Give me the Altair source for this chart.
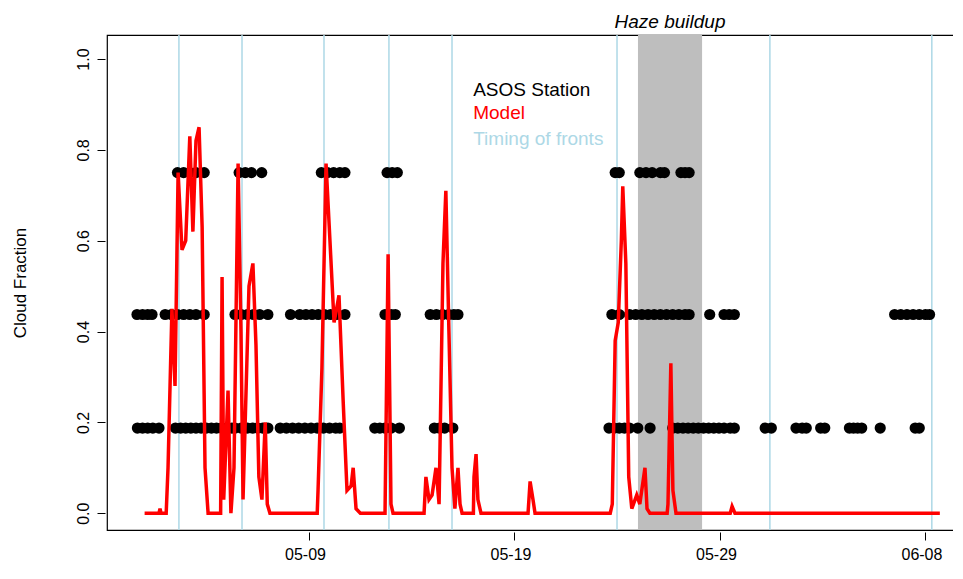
import altair as alt
import pandas as pd

START = pd.Timestamp("2019-05-01")
FONT = "Liberation Sans"

# observed cloud fraction (days since 05-01)
OBS_FEW = [-0.35, -0.1, 0.15, 0.4, 0.7,
           1.5, 1.75, 2.0, 2.25, 2.5, 2.75, 3.0, 3.25, 3.5, 3.75, 4.0, 4.25, 4.4,
           4.7, 5.0, 5.25, 5.5, 5.75, 6.0,
           6.6, 6.9, 7.2, 7.5, 7.8, 8.1, 8.4, 8.7, 9.0, 9.3, 9.5,
           11.2, 11.45, 11.7, 12.0, 12.4,
           14.1, 14.35, 14.6, 15.0,
           22.6, 22.85, 23.1, 23.35, 23.6, 24.0, 24.6,
           25.7, 25.95, 26.2, 26.45, 26.7, 26.95, 27.2, 27.45, 27.7, 27.95, 28.2, 28.5, 28.7,
           30.2, 30.5, 31.7, 32.0, 32.2, 32.9, 33.1,
           34.3, 34.5, 34.7, 34.9, 35.8, 37.5, 37.7]
OBS_SCT = [-0.37, -0.1, 0.15, 0.36,
           1.0, 1.3, 1.6, 1.9, 2.2, 2.5, 2.9,
           4.4, 4.7, 5.0, 5.3, 5.6, 6.0, 7.1,
           7.55, 7.85, 8.15, 8.45, 8.75, 9.05, 9.35, 9.75,
           11.7, 12.0, 12.2,
           13.9, 14.2, 14.5, 14.8, 15.05, 15.25,
           22.74, 23.1,
           23.6, 23.9, 24.2, 24.5, 24.8, 25.1, 25.4, 25.7, 26.0, 26.3, 26.5,
           27.5, 28.2, 28.45, 28.7,
           36.5, 36.8, 37.1, 37.4, 37.7, 38.0, 38.2]
OBS_BKN = [1.6, 1.9, 2.2, 2.5, 2.9,
           4.6, 4.9, 5.2, 5.7,
           8.6, 8.9, 9.2, 9.5, 9.75,
           11.8, 12.05, 12.3,
           22.9, 23.1,
           24.1, 24.4, 24.7, 25.1, 25.3, 26.1, 26.3, 26.5]

# model cloud fraction
MODEL_DAY = [0, 0.7, 0.75, 0.8, 1.05, 1.14, 1.33, 1.48, 1.63, 1.82, 2.0, 2.2, 2.35, 2.5, 2.65,
             2.8, 2.94, 3.09, 3.7, 3.77, 3.85, 4.06, 4.2, 4.35, 4.55, 4.69, 4.79, 5.08, 5.27,
             5.42, 5.56, 5.71, 5.87, 5.97, 6.1,
             8.4, 8.44, 8.63, 8.83, 9.02, 9.22, 9.46, 9.66, 9.85, 10.05, 10.15, 10.29, 10.5,
             11.7, 11.85, 11.99, 12.09,
             13.6, 13.69, 13.84, 13.99, 14.18, 14.33, 14.52, 14.66, 14.81, 14.96, 15.1, 15.25,
             15.35, 15.45, 16.0, 16.03, 16.13, 16.22, 16.37,
             18.66, 18.76, 18.9, 19.0,
             22.66, 22.76, 22.9, 23.05, 23.2, 23.27, 23.42, 23.56, 23.71, 23.95, 24.1, 24.35,
             24.45, 24.59, 25.43, 25.47, 25.61, 25.71, 25.86,
             28.5, 28.59, 28.73, 38.7]
MODEL_CF = [0, 0, 0.01, 0, 0.0, 0.1, 0.45, 0.28, 0.75, 0.58, 0.6, 0.83, 0.62, 0.82, 0.85,
            0.63, 0.1, 0, 0, 0.52, 0.03, 0.27, 0, 0.1, 0.77, 0.4, 0.03, 0.5, 0.55,
            0.37, 0.08, 0.03, 0.2, 0.02, 0,
            0, 0.05, 0.32, 0.77, 0.6, 0.42, 0.48, 0.25, 0.05, 0.06, 0.1, 0.01, 0,
            0, 0.57, 0.02, 0,
            0, 0.08, 0.03, 0.04, 0.1, 0.02, 0.55, 0.71, 0.4, 0.1, 0.01, 0.1,
            0.02, 0, 0, 0.08, 0.13, 0.03, 0,
            0, 0.07, 0.03, 0,
            0, 0.02, 0.38, 0.42, 0.6, 0.72, 0.55, 0.08, 0.01, 0.04, 0.02, 0.1,
            0.01, 0, 0, 0.02, 0.33, 0.05, 0,
            0, 0.015, 0, 0]

FRONTS = [1.67, 4.74, 8.73, 11.89, 14.96, 22.99, 30.43, 38.31]
HAZE = [24.01, 27.13]
TICK_DAYS = [8, 18, 28, 38]


def to_time(days):
    return [START + pd.Timedelta(days=d) for d in days]


obs = pd.DataFrame({
    "t": to_time(OBS_FEW + OBS_SCT + OBS_BKN),
    "cf": [0.1875] * len(OBS_FEW) + [0.4375] * len(OBS_SCT) + [0.75] * len(OBS_BKN),
})
model = pd.DataFrame({"t": to_time(MODEL_DAY), "cf": MODEL_CF})
fronts = pd.DataFrame({"t": to_time(FRONTS)})
haze = pd.DataFrame({"t": to_time(HAZE[:1]), "t2": to_time(HAZE[1:])})

xscale = alt.Scale(domain=[(START + pd.Timedelta(days=-1.83)).isoformat(),
                           (START + pd.Timedelta(days=39.73)).isoformat()], nice=False)
yscale = alt.Scale(domain=[-0.037, 1.053], nice=False, zero=False)
ticks = [t.isoformat() for t in to_time(TICK_DAYS)]

x_enc = alt.X("t:T", scale=xscale, title=None,
              axis=alt.Axis(values=ticks, format="%m-%d", grid=False, tickSize=8,
                            labelFontSize=16, labelPadding=6, offset=2, labelOffset=-4,
                            domain=False, labelFont=FONT))
y_enc = alt.Y("cf:Q", scale=yscale, title="Cloud Fraction",
              axis=alt.Axis(values=[0, 0.2, 0.4, 0.6, 0.8, 1.0], format=".1f", grid=False,
                            tickSize=8, labelAngle=270, labelAlign="center",
                            labelBaseline="bottom", labelFontSize=16, labelPadding=6,
                            titleFontSize=17, titleFontWeight="normal", titlePadding=46,
                            domain=False, offset=2, labelFont=FONT, titleFont=FONT))

haze_layer = alt.Chart(haze).mark_rect(color="#bebebe").encode(
    x=x_enc, x2="t2:T", y=alt.value(0), y2=alt.value(495))
front_layer = alt.Chart(fronts).mark_rule(color="#add8e6", strokeWidth=1.5).encode(
    x="t:T", y=alt.value(0), y2=alt.value(495))
obs_layer = alt.Chart(obs).mark_circle(color="black", opacity=1, size=125).encode(
    x="t:T", y=y_enc)
model_layer = alt.Chart(model).mark_line(color="red", strokeWidth=3.5).encode(
    x="t:T", y="cf:Q")

legend = pd.DataFrame({
    "t": to_time([15.99] * 3),
    "cf": [0.932, 0.881, 0.824],
    "label": ["ASOS Station", "Model", "Timing of fronts"],
    "col": ["black", "red", "#add8e6"],
})
legend_layer = alt.Chart(legend).mark_text(align="left", fontSize=19, font=FONT).encode(
    x="t:T", y="cf:Q", text="label:N", color=alt.Color("col:N", scale=None))
haze_text = alt.Chart(pd.DataFrame({"t": to_time([25.57]), "label": ["Haze buildup"]})).mark_text(
    fontSize=19, fontStyle="italic", font=FONT, baseline="middle").encode(
    x="t:T", y=alt.value(-13), text="label:N")

chart = alt.layer(haze_layer, front_layer, obs_layer, model_layer, legend_layer, haze_text).properties(
    width=854, height=495, autosize="none",
    padding={"left": 99, "top": 27, "right": -8, "bottom": 41},
).configure_view(stroke="black", strokeWidth=1.2).configure_axis(
    tickColor="black", labelColor="black", titleColor="black")

chart.save("out.html", embed_options={"renderer": "svg", "actions": False})
